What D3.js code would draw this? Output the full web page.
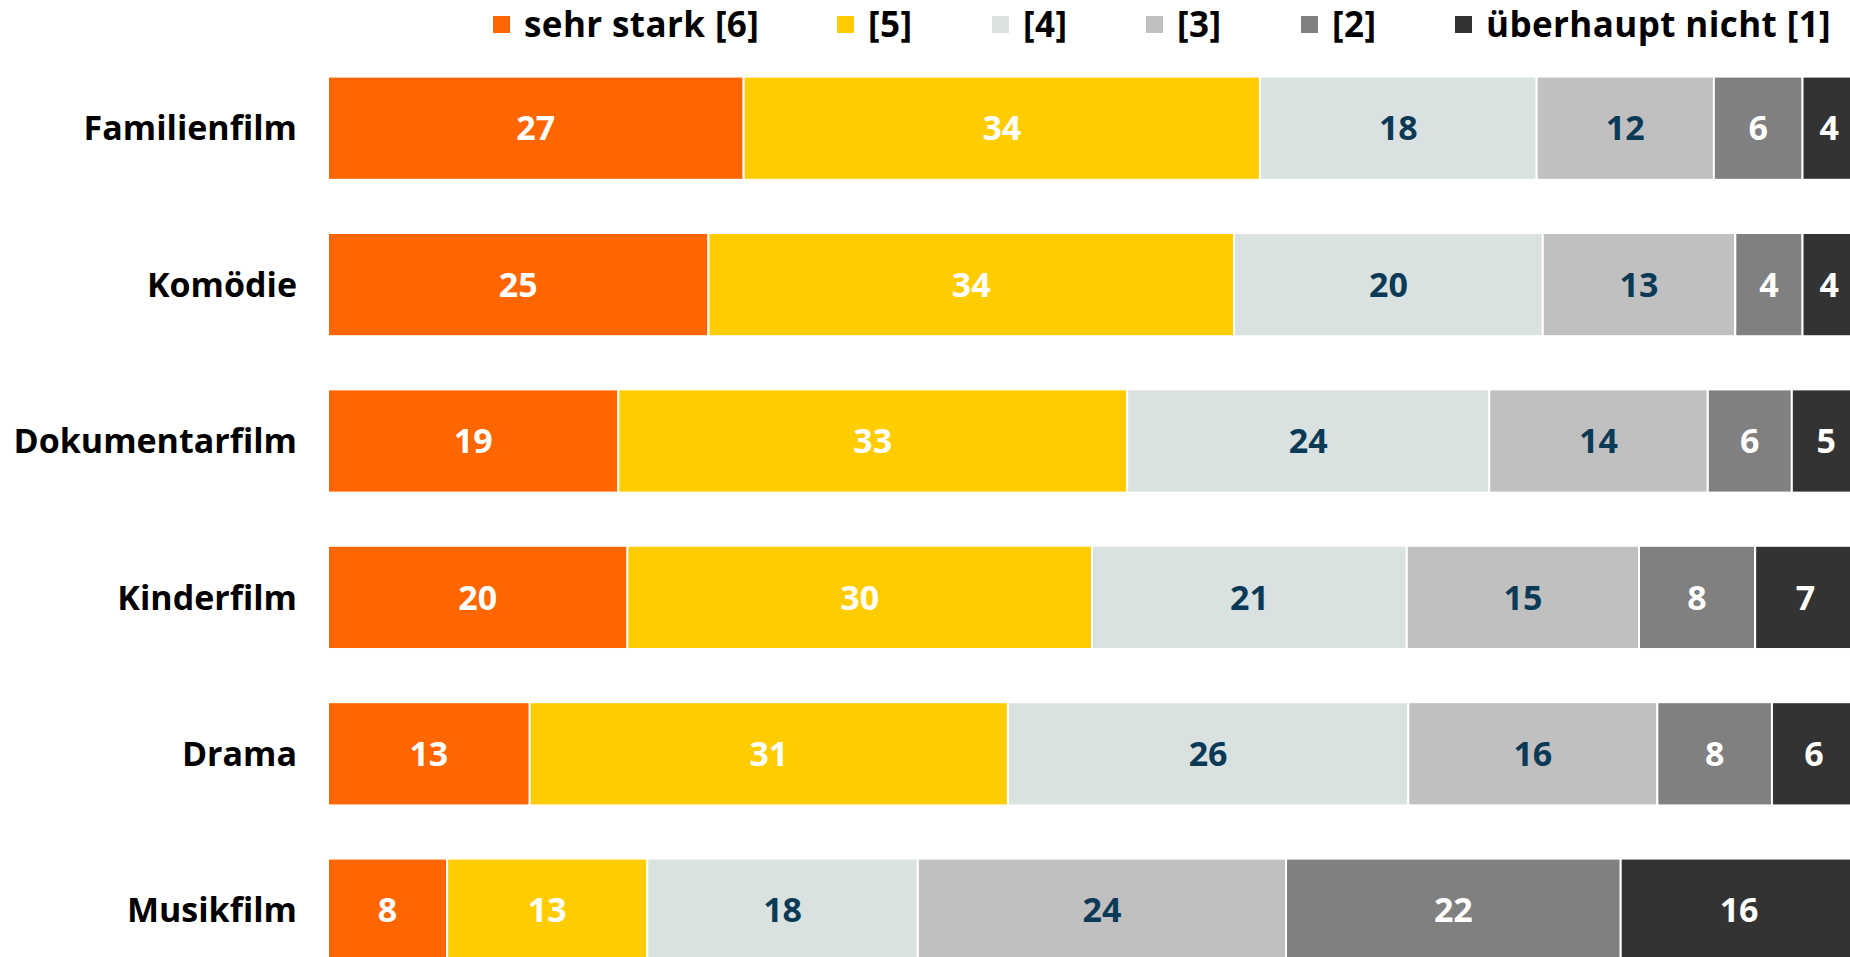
<!DOCTYPE html>
<html>
<head>
<meta charset="utf-8">
<script src="https://cdn.jsdelivr.net/npm/d3@7"></script>
<style>
  body { margin: 0; background: #fff; overflow: hidden; }
  text { font-family: "Open Sans", sans-serif; font-weight: bold; }
</style>
</head>
<body>
<div id="app"></div>
<script>
// shares in %; labels show the rounded value
var categories = ["Familienfilm", "Komödie", "Dokumentarfilm", "Kinderfilm", "Drama", "Musikfilm"]
var seriesNames = ["sehr stark [6]", "[5]", "[4]", "[3]", "[2]", "überhaupt nicht [1]"]
var stark6 = [27.2, 24.9, 19.0, 19.6, 13.2, 7.8]
var wert5 = [33.8, 34.4, 33.3, 30.4, 31.3, 13.1]
var wert4 = [18.1, 20.2, 23.7, 20.6, 26.2, 17.7]
var wert3 = [11.6, 12.6, 14.3, 15.2, 16.3, 24.1]
var wert2 = [5.8, 4.4, 5.5, 7.6, 7.5, 21.9]
var nicht1 = [3.5, 3.5, 4.5, 6.6, 5.5, 15.5]

var colours = ["#ff6600", "#ffcc00", "#d9e2e1", "#c0c0c0", "#808080", "#333333"]
var labelColours = ["#fff", "#fff", "#0b3a57", "#0b3a57", "#fff", "#fff"]
// legend slot x positions (layout only)
var legendX = [493, 837, 992, 1146, 1301, 1455]

var W = 1850, H = 957

var svg = d3.select("#app").append("svg")
  .attr("width", W).attr("height", H)

var allSeries = [stark6, wert5, wert4, wert3, wert2, nicht1]
var table = categories.map(function (c, i) {
  var row = {cat: c}
  seriesNames.forEach(function (s, j) { row[s] = allSeries[j][i] })
  return row
})

var stacked = d3.stack().keys(seriesNames)(table)

var x = d3.scaleLinear().domain([0, 100]).range([328, 1856])
var y = d3.scaleBand().domain(categories).range([50, 988.4])
  .paddingInner(0.34).paddingOuter(0.17)

var layers = svg.selectAll(".layer").data(stacked).enter().append("g")
  .attr("class", "layer")

layers.selectAll("rect").data(d => d).enter().append("rect")
  .attr("x", d => x(d[0]))
  .attr("y", d => y(d.data.cat))
  .attr("width", d => x(d[1]) - x(d[0]))
  .attr("height", y.bandwidth())
  .attr("fill", function () { return colours[d3.select(this.parentNode).datum().index] })
  .attr("stroke", "#fff")
  .attr("stroke-width", 2)

layers.selectAll("text").data(d => d).enter().append("text")
  .attr("x", d => (x(d[0]) + x(d[1])) / 2)
  .attr("y", d => y(d.data.cat) + y.bandwidth() / 2)
  .attr("dy", "0.36em")
  .attr("text-anchor", "middle")
  .style("font-size", "34px")
  .attr("fill", function () { return labelColours[d3.select(this.parentNode).datum().index] })
  .text(d => Math.round(d[1] - d[0]))

// category labels
svg.selectAll(".cat").data(categories).enter().append("text")
  .attr("class", "cat")
  .attr("x", 297)
  .attr("y", d => y(d) + y.bandwidth() / 2)
  .attr("dy", "0.36em")
  .attr("text-anchor", "end")
  .style("font-size", "34px")
  .attr("fill", "#000")
  .text(d => d)

// legend
var legend = svg.selectAll(".legend").data(seriesNames).enter().append("g")
  .attr("class", "legend")
  .attr("transform", (d, i) => "translate(" + legendX[i] + ",0)")

legend.append("rect")
  .attr("x", 0).attr("y", 16)
  .attr("width", 17).attr("height", 17)
  .attr("fill", (d, i) => colours[i])

legend.append("text")
  .attr("x", 31).attr("y", 37)
  .style("font-size", "35px")
  .style("letter-spacing", "0.4px")
  .attr("fill", "#000")
  .text(d => d)
</script>
</body>
</html>
